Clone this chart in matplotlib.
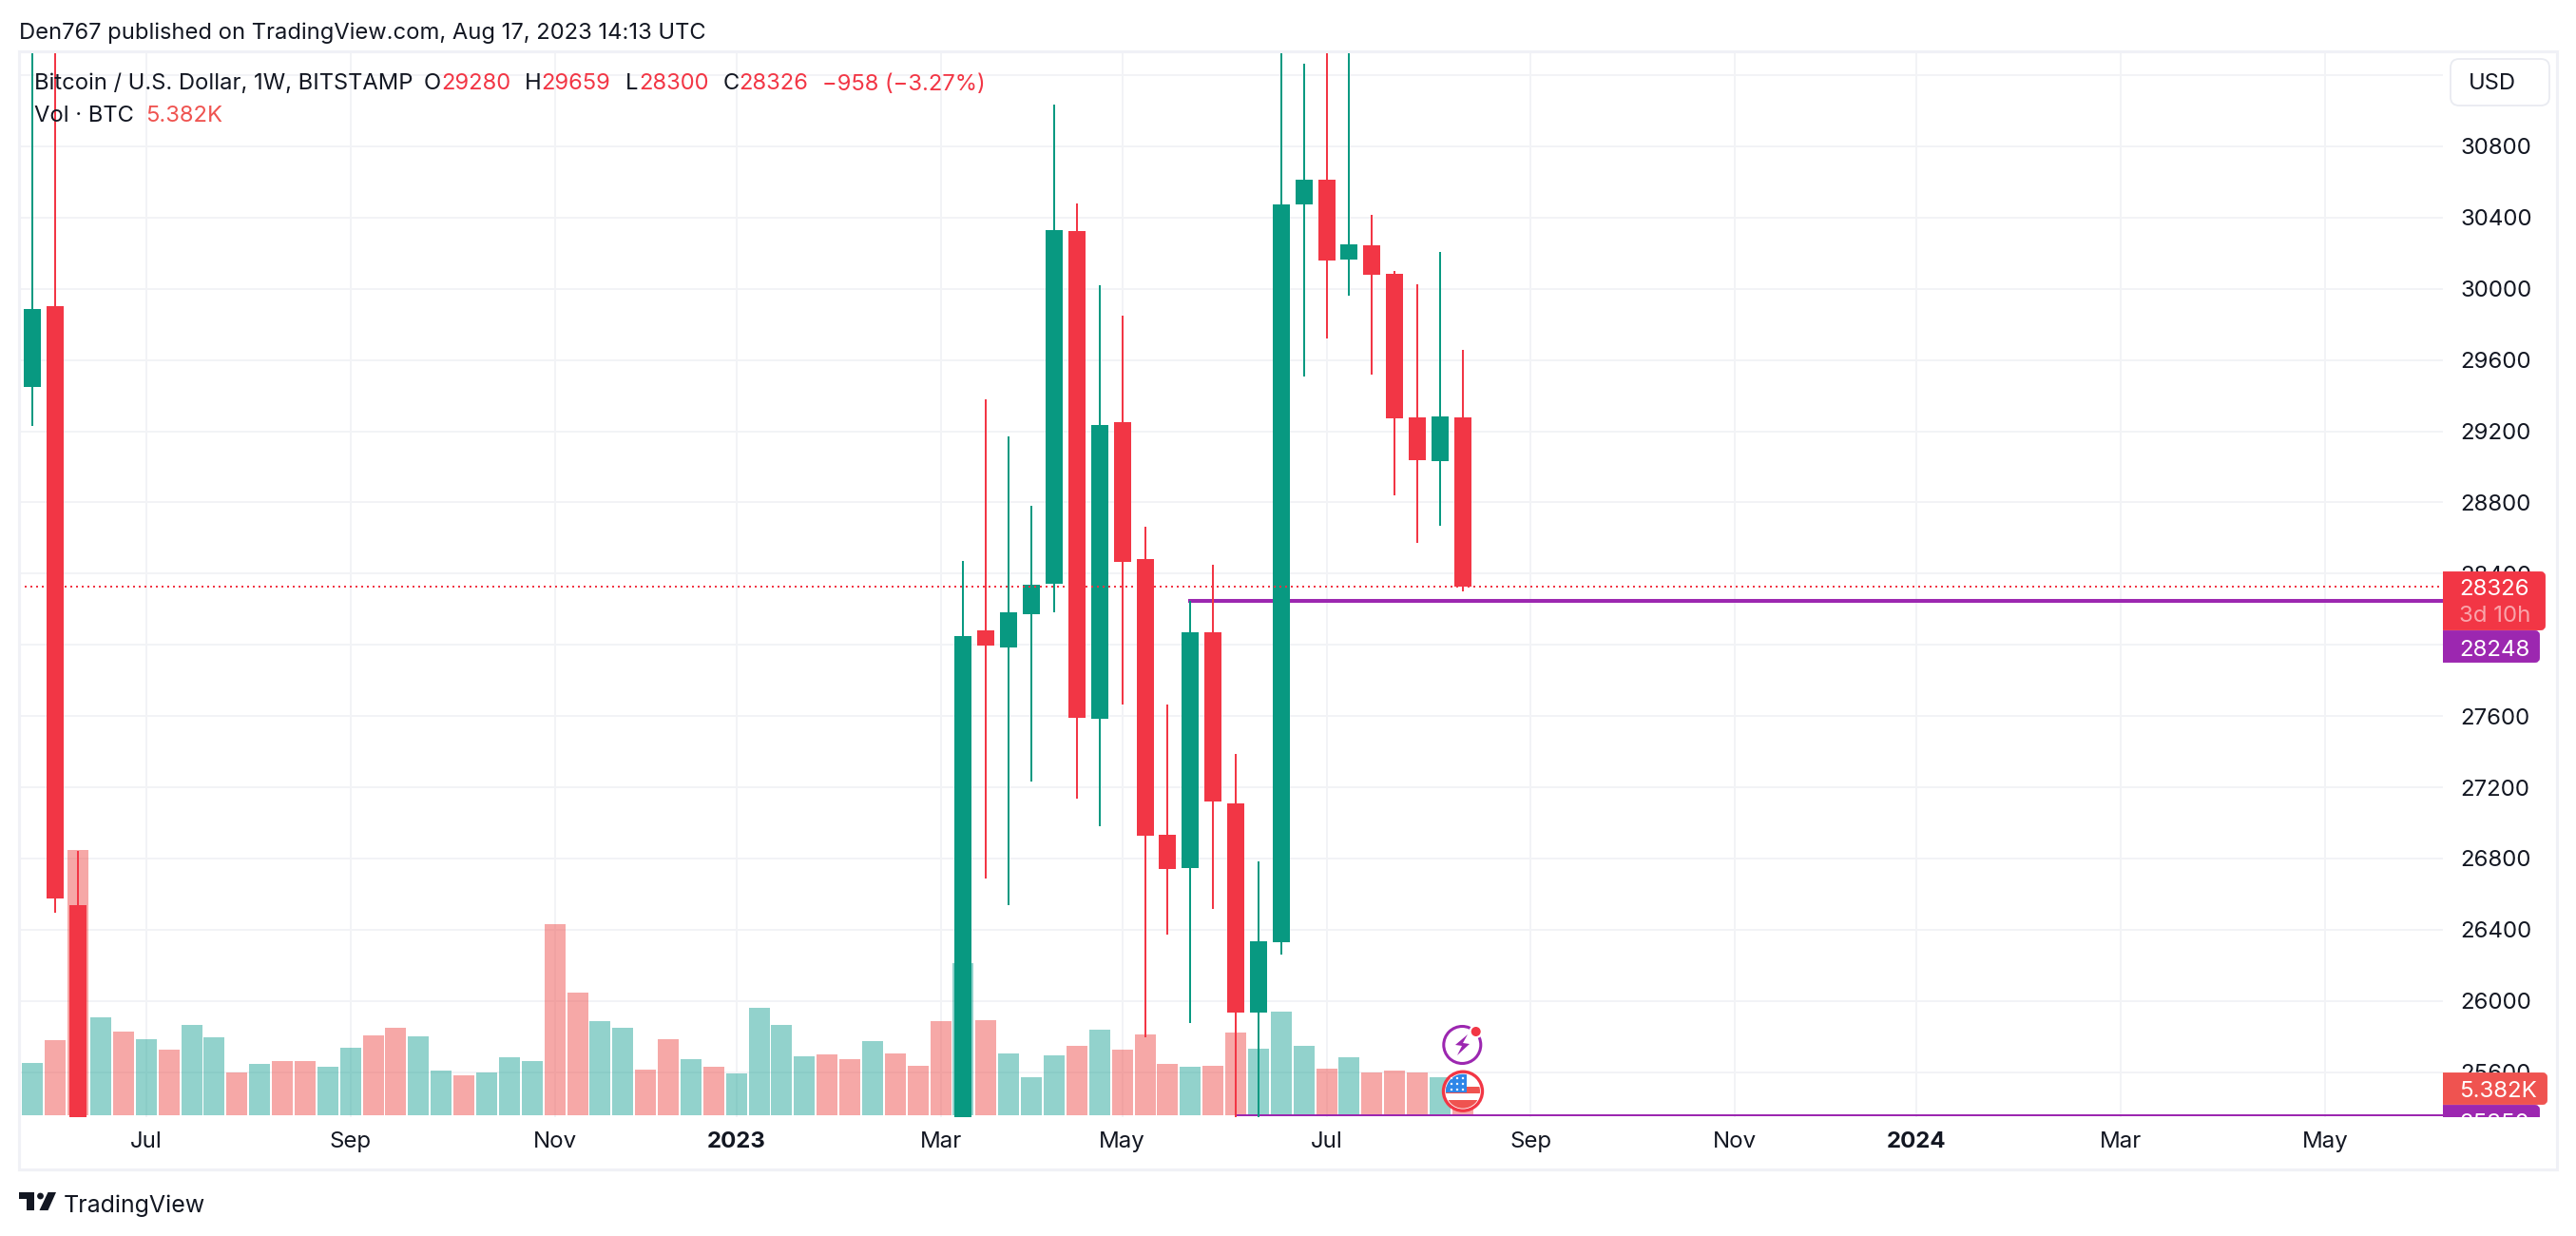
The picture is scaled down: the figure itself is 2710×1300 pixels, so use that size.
#!/usr/bin/env python3

import matplotlib
matplotlib.use('Agg')
import matplotlib.pyplot as plt
from matplotlib.patches import Circle, FancyBboxPatch, Polygon, Rectangle

W, H = 2710, 1300
plt.rcParams['font.family'] = ['Inter', 'DejaVu Sans']

GREEN = '#089981'
RED = '#F23645'
VOL_GREEN = '#26A69A'
VOL_RED = '#EF5350'
PURPLE = '#9C27B0'
INK = '#131722'
GRID = '#F2F3F6'
FRAME = '#F0F1F6'

# candles that fall inside the visible price range (weekly bar index)
candle_idx = [0, 1, 2, 41, 42, 43, 44, 45, 46, 47, 48, 49, 50, 51, 52, 53, 54, 55,
              56, 57, 58, 59, 60, 61, 62, 63]
opens = [29450, 29902, 26538, 25000, 28081, 27985, 28172, 28343, 30324, 27584, 29251,
         28482, 26933, 26746, 28070, 27109, 25934, 26329, 30473, 30612, 30163, 30245,
         30083, 29277, 29031, 29280]
closes = [29886, 26575, 25000, 28049, 27996, 28183, 28338, 30329, 27590, 29235, 28465,
          26928, 26741, 28070, 27120, 25934, 26335, 30473, 30612, 30159, 30249, 30078,
          29273, 29036, 29282, 28326]
highs = [31700, 31700, 26842, 28471, 29379, 29170, 28781, 31035, 30480, 30019, 29848,
         28664, 27665, 28248, 28450, 27387, 26783, 31700, 31263, 31700, 31700, 30415,
         30099, 30026, 30207, 29659]
lows = [29231, 26495, 24800, 24800, 26687, 26538, 27232, 28183, 27136, 26981, 27665,
        25797, 26372, 25876, 26516, 25340, 25340, 26260, 29508, 29720, 29962, 29518,
        28839, 28573, 28668, 28300]

# volume in thousands of BTC, index -1 is the bar cut by the left edge
vol_idx = list(range(-1, 64))
volumes = [11.2, 10.45, 15.0, 53.0, 19.6, 16.7, 15.2, 13.1, 18.05, 15.6, 8.7, 10.3, 10.8,
           10.8, 9.7, 13.5, 16.0, 17.5, 15.8, 8.9, 8.0, 8.7, 11.6, 10.8, 38.2, 24.5, 18.8,
           17.5, 9.1, 15.2, 11.2, 9.7, 8.4, 21.5, 18.2, 11.8, 12.2, 11.2, 14.8, 12.4, 9.9,
           18.8, 30.4, 19.0, 12.5, 7.6, 12.0, 13.9, 17.1, 13.1, 16.2, 10.3, 9.7, 9.9, 16.5,
           13.3, 20.7, 13.9, 9.3, 11.6, 8.6, 8.9, 8.6, 7.6, 5.382]
vol_dir = 'rgrrgrgrggrgrrggrrggrgggrrggrrgrgg' + 'ggrrgrrrgrgggrgrrrgrrggg' + 'rgrrrgr'

price_ticks = list(range(25600, 31201, 400))
price_labels = [str(p) for p in price_ticks[:-1]] + ['']
month_ticks = [5, 14, 23, 31, 40, 48, 57, 66, 75, 83, 92, 101]
month_labels = ['Jul', 'Sep', 'Nov', '2023', 'Mar', 'May', 'Jul', 'Sep', 'Nov', '2024', 'Mar', 'May']

last_price = 28326
level_top = 28248
level_low = 25355
level_top_start = 50.9
level_low_start = 52.95

# pane geometry, in pixels of the output image
PANE_L, PANE_R, PANE_T, PANE_B = 20, 2570, 54, 1174.5
VOL_BASE = 1173.3
PX_PER_PRICE = 0.18725
PX_PER_BAR = 23.88
X0 = 34.4
K_PER_PX = 0.19
rect = [PANE_L / W, 1 - PANE_B / H, (PANE_R - PANE_L) / W, (PANE_B - PANE_T) / H]

fig = plt.figure(figsize=(W / 100, H / 100), dpi=100, facecolor='white')

ax = fig.add_axes(rect, zorder=1)
ax.set_xlim((PANE_L - X0) / PX_PER_BAR, (PANE_R - X0) / PX_PER_BAR)
ax.set_ylim(28400 - (PANE_B - 603.3) / PX_PER_PRICE, 28400 + (603.3 - PANE_T) / PX_PER_PRICE)
for s in ax.spines.values():
    s.set_visible(False)
ax.yaxis.tick_right()
ax.set_yticks(price_ticks)
ax.set_yticklabels(price_labels, fontsize=17.3, color=INK)
ax.set_xticks(month_ticks)
ax.set_xticklabels(month_labels, fontsize=17.3, color=INK)
for lab in ax.get_xticklabels():
    if lab.get_text() in ('2023', '2024'):
        lab.set_fontweight('bold')
ax.tick_params(axis='both', length=0)
ax.tick_params(axis='y', pad=13)
ax.tick_params(axis='x', pad=11)
ax.grid(True, color=GRID, linewidth=1.44)
ax.set_axisbelow(True)

# volume sits over the grid but under the candles
ax_vol = fig.add_axes(rect, sharex=ax, zorder=2)
ax_vol.patch.set_visible(False)
ax_vol.axis('off')
ax_vol.set_ylim((VOL_BASE - PANE_B) * K_PER_PX, (VOL_BASE - PANE_T) * K_PER_PX)
vol_colors = [VOL_GREEN if d == 'g' else VOL_RED for d in vol_dir]
ax_vol.bar(vol_idx, volumes, width=22 / PX_PER_BAR, color=vol_colors, alpha=0.5, linewidth=0)

ax_c = fig.add_axes(rect, sharex=ax, sharey=ax, zorder=3)
ax_c.patch.set_visible(False)
ax_c.axis('off')
ax_c.hlines(level_top, level_top_start, ax.get_xlim()[1], color=PURPLE, linewidth=2.9, zorder=1)
ax_c.hlines(level_low, level_low_start, ax.get_xlim()[1], color=PURPLE, linewidth=1.44, zorder=1)
for i, o, c, h, l in zip(candle_idx, opens, closes, highs, lows):
    col = GREEN if c >= o else RED
    ax_c.vlines(i, l, h, color=col, linewidth=1.44, zorder=2)
    ax_c.bar(i, abs(c - o), bottom=min(o, c), width=18 / PX_PER_BAR, color=col, linewidth=0, zorder=3)
ax_c.hlines(last_price, ax.get_xlim()[0], ax.get_xlim()[1], color=RED, linewidth=1.44,
            linestyle=(0, (1, 2)), zorder=4)

# price tags on the right scale, cut off at the bottom of the pane
ax_tag = fig.add_axes([PANE_R / W, 1 - PANE_B / H, (2690 - PANE_R) / W, (PANE_B - PANE_T) / H], zorder=4)
ax_tag.patch.set_visible(False)
ax_tag.axis('off')
ax_tag.set_xlim(PANE_R, 2690)
ax_tag.set_ylim(PANE_B, PANE_T)


def tag(x1, y1, y2, color):
    ax_tag.add_patch(FancyBboxPatch((PANE_R - 20, y1 + 2), x1 - PANE_R + 18, y2 - y1 - 4,
                                    boxstyle='round,pad=0,rounding_size=3', mutation_aspect=1,
                                    facecolor=color, edgecolor=color, linewidth=2.8))


def tag_text(y, s, color='white', alpha=1.0):
    ax_tag.text(2587, y, s, color=color, alpha=alpha, fontsize=17.3, va='center_baseline', ha='left',
                clip_on=True)


tag(2672, 663, 697, PURPLE)
tag(2678, 601, 663, RED)
tag_text(618, '28326')
tag_text(646, '3d 10h', alpha=0.55)
tag_text(681, '28248')
tag(2672, 1162, 1196, PURPLE)
tag(2680, 1128, 1162, VOL_RED)
tag_text(1145, '5.382K')
tag_text(1179, '25350')

# everything else is placed in plain pixel coordinates
ov = fig.add_axes([0, 0, 1, 1], zorder=5)
ov.patch.set_visible(False)
ov.axis('off')
ov.set_xlim(0, W)
ov.set_ylim(H, 0)

ov.add_patch(Rectangle((20, 54), 2670, 1176, fill=False, edgecolor=FRAME, linewidth=2.2))


def txt(x, y, s, color=INK, size=17.1, **kw):
    ov.text(x, y, s, color=color, fontsize=size, va='center_baseline', ha=kw.pop('ha', 'left'), **kw)


txt(20, 32, 'Den767 published on TradingView.com, Aug 17, 2023 14:13 UTC')
txt(36.5, 86, 'Bitcoin / U.S. Dollar, 1W, BITSTAMP')
txt(445.6, 86, 'O')
txt(464, 86, '29280', RED)
txt(551.6, 86, 'H')
txt(569, 86, '29659', RED)
txt(658, 86, 'L')
txt(672, 86, '28300', RED)
txt(761, 86, 'C')
txt(777.5, 86, '28326', RED)
txt(865, 86, '\u2212958 (\u22123.27%)', RED)
txt(36.5, 120, 'Vol \u00b7 BTC')
txt(153, 120, '5.382K', VOL_RED)

# USD button
ov.add_patch(FancyBboxPatch((2578, 62), 104, 49, boxstyle='round,pad=0,rounding_size=9',
                            facecolor='white', edgecolor='#E9EBF1', linewidth=1.3))
txt(2597, 86, 'USD')

# earnings / economic event markers
ov.add_patch(Circle((1538.3, 1099), 19.5, fill=False, edgecolor=PURPLE, linewidth=2.2))
ov.add_patch(Circle((1552.7, 1085), 6.5, facecolor='white', edgecolor='white'))
ov.add_patch(Circle((1552.7, 1085), 5, facecolor=RED, edgecolor='none'))
ov.add_patch(Polygon([[1544, 1088], [1531, 1099], [1538, 1100], [1533, 1110], [1546, 1098], [1539, 1097]],
                     facecolor=PURPLE, edgecolor='none'))
ov.add_patch(Circle((1539, 1147.7), 20.5, facecolor='white', edgecolor=RED, linewidth=2.4))
clip = Circle((1539, 1147.7), 18, transform=ov.transData)
for y0, hh in [(1143, 7), (1157, 11)]:
    p = Rectangle((1515, y0), 50, hh, facecolor=VOL_RED, edgecolor='none')
    ov.add_patch(p)
    p.set_clip_path(clip)
p = Rectangle((1515, 1129), 28, 20, facecolor='#2E86E8', edgecolor='none')
ov.add_patch(p)
p.set_clip_path(clip)
for sx in (1527, 1533, 1539):
    for sy in (1134, 1140, 1146):
        ov.add_patch(Circle((sx, sy), 1.2, facecolor='white', edgecolor='none'))

# TradingView logo
ov.add_patch(Polygon([[20, 1254], [36, 1254], [36, 1273], [28, 1273], [28, 1261], [20, 1261]],
                     facecolor=INK, edgecolor='none'))
ov.add_patch(Circle((42.5, 1258), 3.4, facecolor=INK, edgecolor='none'))
ov.add_patch(Polygon([[50.5, 1254], [59, 1254], [50.5, 1273], [41.5, 1273]], facecolor=INK, edgecolor='none'))
txt(67, 1266, 'TradingView', size=18)

fig.savefig('out.png', dpi=100, facecolor='white')
